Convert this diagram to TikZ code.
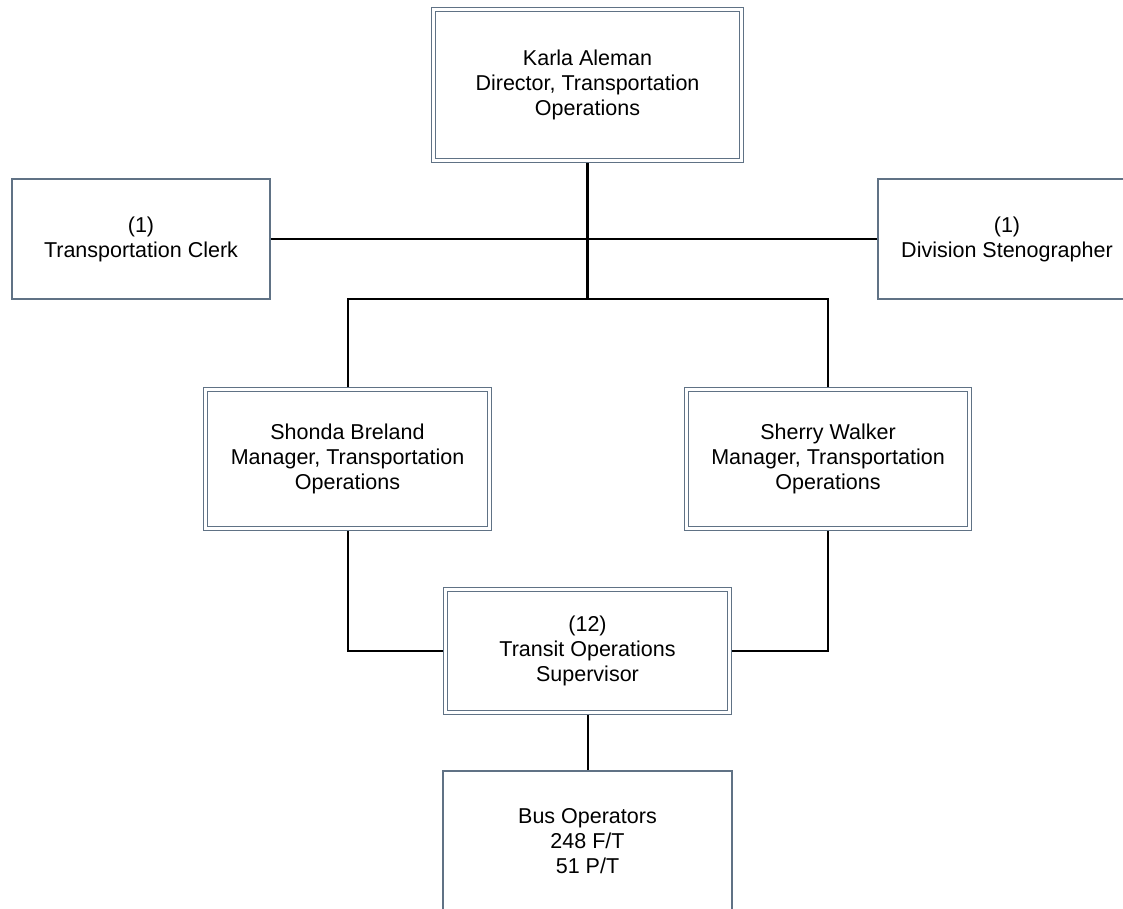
\documentclass[tikz,border=0pt]{standalone}
\usepackage{fontspec}
\setmainfont{Liberation Sans}
\definecolor{slate}{RGB}{96,114,133}
\begin{document}
\begin{tikzpicture}[x=1pt,y=-1pt,
  box/.style={draw=slate, line width=1.6pt, fill=white, rectangle, align=center,
    font=\fontsize{21.5}{25}\selectfont, inner sep=0pt, outer sep=0.8pt},
  dbox/.style={box, line width=1.5pt, double=white, double distance=2.2pt, outer sep=2.6pt},
  conn/.style={draw=black, line width=2pt}]
\useasboundingbox (0,0) rectangle (1123,908);
\clip (0,0) rectangle (1123,908);
\fill[white] (0,0) rectangle (1123,908);
% nodes
\node[dbox, minimum width=308pt, minimum height=151pt] (dir) at (587.5,85)
  {Karla Aleman\\Director, Transportation\\Operations};
\node[box, minimum width=258pt, minimum height=120pt] (clerk) at (141,239)
  {(1)\\Transportation Clerk};
\node[box, minimum width=258pt, minimum height=120pt] (steno) at (1007,239)
  {(1)\\Division Stenographer};
\node[dbox, minimum width=284pt, minimum height=139pt] (sh) at (347.5,459)
  {Shonda Breland\\Manager, Transportation\\Operations};
\node[dbox, minimum width=283pt, minimum height=139pt] (sw) at (828,459)
  {Sherry Walker\\Manager, Transportation\\Operations};
\node[dbox, minimum width=284pt, minimum height=123pt] (sup) at (587.5,651)
  {(12)\\Transit Operations\\Supervisor};
\node[box, minimum width=289pt, minimum height=140pt] (bus) at (587.5,841)
  {Bus Operators\\248 F/T\\51 P/T};
% connectors
\coordinate (j) at (587.5,299);
\draw[conn, line width=2.6pt] (dir.south) -- (j);
\draw[conn] (clerk.east) -- (steno.west);
\draw[conn] (sh.north) -- (sh.north |- j) -- (sw.north |- j) -- (sw.north);
\draw[conn] (sh.south) |- (sup.west);
\draw[conn] (sw.south) |- (sup.east);
\draw[conn] (sup.south) -- (bus.north);
\end{tikzpicture}
\end{document}
